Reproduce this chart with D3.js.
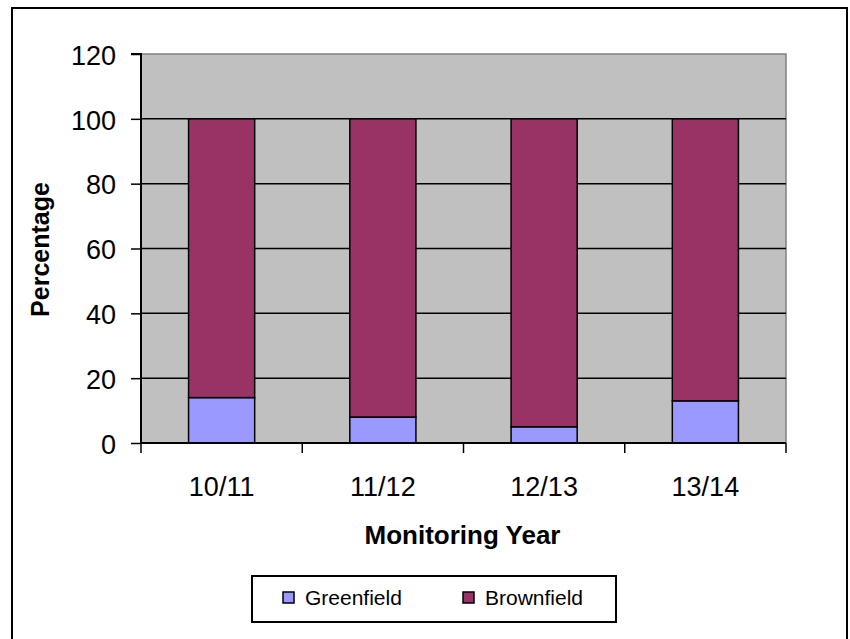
<!DOCTYPE html>
<html><head><meta charset="utf-8">
<script src="https://cdn.jsdelivr.net/npm/d3@7"></script>
<style>body{margin:0;background:#fff}svg{display:block;font-family:"Liberation Sans",Arial,sans-serif}</style>
</head><body><svg id="c" width="850" height="639"></svg>
<script>
const categories = ["10/11","11/12","12/13","13/14"];
const greenfield = [14, 8, 5, 13];
const brownfield = [86, 92, 95, 87];
const yTicks = [0,20,40,60,80,100,120];
const seriesNames = ["Greenfield","Brownfield"];
const colors = ["#9999FF","#993366"];

const svg = d3.select("#c");
const L=141, R=786, T=54, B=443;
svg.append("rect").attr("x",12).attr("y",8).attr("width",835).attr("height",640)
  .attr("fill","#fff").attr("stroke","#000").attr("stroke-width",2);

const x = d3.scaleBand().domain(categories).range([L,R]).paddingInner(0.59).paddingOuter(0.295);
const xb = d3.scaleBand().domain(categories).range([L,R]);
const y = d3.scaleLinear().domain([0,120]).range([B,T]);

svg.append("rect").attr("x",L).attr("y",T).attr("width",R-L).attr("height",B-T).attr("fill","#C0C0C0");
svg.append("path").attr("d",`M${L},${T}H${R}V${B}`).attr("fill","none").attr("stroke","#808080").attr("stroke-width",1.5);
svg.append("g").selectAll("line").data(yTicks.filter(d=>d>0&&d<120)).join("line")
  .attr("x1",L).attr("x2",R).attr("y1",d=>y(d)).attr("y2",d=>y(d)).attr("stroke","#000").attr("stroke-width",1.5);

const stack = d3.stack().keys([0,1]).value((d,k)=>k===0?d.g:d.b);
const rows = categories.map((c,i)=>({c,g:greenfield[i],b:brownfield[i]}));
const layers = stack(rows);
layers.forEach((layer,k)=>{
  svg.append("g").selectAll("rect").data(layer).join("rect")
    .attr("x",d=>x(d.data.c)).attr("width",x.bandwidth())
    .attr("y",d=>y(d[1])).attr("height",d=>y(d[0])-y(d[1]))
    .attr("fill",colors[k]).attr("stroke","#000").attr("stroke-width",1.5);
});

const ya = d3.axisLeft(y).tickValues(yTicks).tickSize(10).tickPadding(15);
const gy = svg.append("g").attr("transform",`translate(${L},0)`).call(ya);
gy.select(".domain").attr("stroke","#000").attr("stroke-width",2).attr("d",`M-10,${T}H0V${B}`);
gy.selectAll(".tick line").attr("stroke","#000").attr("stroke-width",1.5);
gy.selectAll("text").attr("font-size",27).attr("fill","#000").attr("dy","0.38em")
  .attr("font-family","Liberation Sans, Arial, sans-serif");

const ticksX = categories.map(c=>xb(c)).concat([R]);
const gx = svg.append("g");
gx.append("line").attr("x1",L).attr("x2",R).attr("y1",B).attr("y2",B).attr("stroke","#000").attr("stroke-width",2);
gx.selectAll("line.t").data(ticksX).join("line").attr("class","t")
  .attr("x1",d=>d).attr("x2",d=>d).attr("y1",B).attr("y2",B+10).attr("stroke","#000").attr("stroke-width",1.5);
gx.selectAll("text").data(categories).join("text")
  .attr("x",d=>xb(d)+xb.bandwidth()/2).attr("y",496).attr("text-anchor","middle")
  .attr("font-size",27).text(d=>d);

svg.append("text").attr("x",(L+R)/2-1).attr("y",544).attr("text-anchor","middle")
  .attr("font-size",26).attr("font-weight","bold").text("Monitoring Year");
svg.append("text").attr("transform",`translate(49,${(T+B)/2+1}) rotate(-90)`).attr("text-anchor","middle")
  .attr("font-size",25).attr("font-weight","bold").text("Percentage");

const lg = svg.append("g");
lg.append("rect").attr("x",252).attr("y",576).attr("width",364).attr("height",46)
  .attr("fill","#fff").attr("stroke","#000").attr("stroke-width",2);
const legX = [283, 463];
seriesNames.forEach((n,i)=>{
  lg.append("rect").attr("x",legX[i]).attr("y",592).attr("width",11).attr("height",11)
    .attr("fill",colors[i]).attr("stroke","#000").attr("stroke-width",1.5);
  lg.append("text").attr("x",legX[i]+22).attr("y",605).attr("font-size",21).text(n);
});
</script></body></html>
